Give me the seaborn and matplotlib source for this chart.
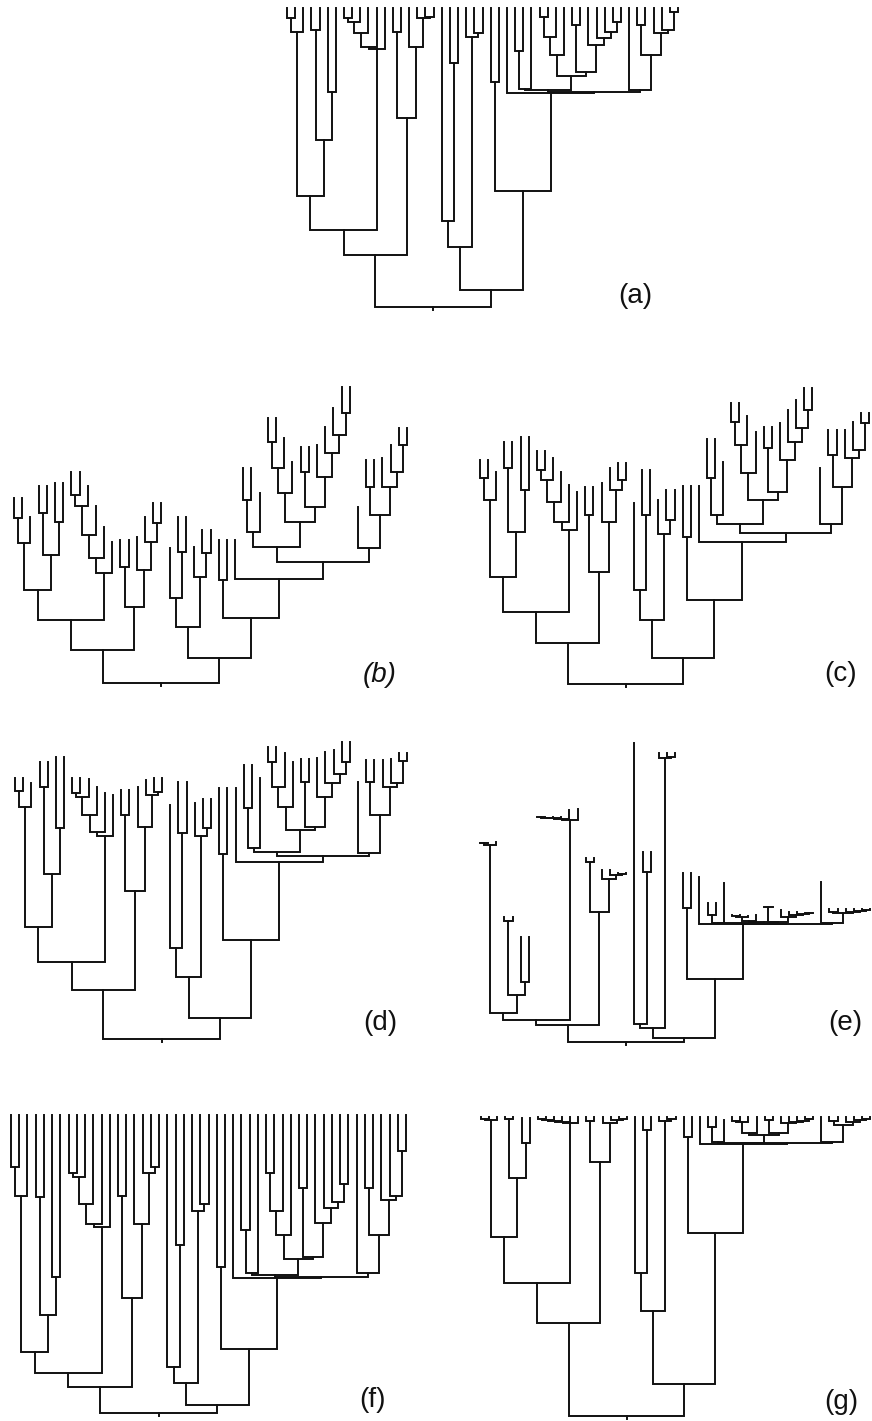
import matplotlib
matplotlib.use("Agg")
import matplotlib.pyplot as plt
import numpy as np
import pandas as pd
import seaborn as sns

# ---- shared hierarchy: 49 leaves (L0..L48), 48 merges listed bottom-up ----
node_names = ["A", "B", "C", "D", "E", "F", "G", "H", "I", "J", "K", "M",
              "N", "O", "P", "Q", "U", "V", "R", "W", "S", "T", "X",
              "AA", "AB", "AC", "AD", "AE", "AF", "AG", "AH", "AI", "AJ", "AK",
              "AL", "AM", "AN", "AO", "AP", "AQ", "AR", "AS", "AT", "AU",
              "BIG", "Z", "Y", "ROOT"]
left_child = ["L0", "A", "L3", "L5", "C", "B", "L7", "G", "H", "I", "J", "F",
              "L13", "L17", "L16", "L15", "N", "M", "L20", "L19", "L23", "L22", "W",
              "L25", "L28", "AB", "L31", "AD", "AE", "L35", "L40", "L39", "L38", "L37",
              "AG", "AF", "AC", "L43", "L47", "L46", "L45", "AO", "L42", "AN",
              "L27", "AA", "X", "V"]
right_child = ["L1", "L2", "L4", "L6", "D", "E", "L8", "L9", "L10", "L11", "L12", "K",
               "L14", "L18", "O", "P", "Q", "U", "L21", "R", "L24", "S", "T",
               "L26", "L29", "L30", "L32", "L33", "L34", "L36", "L41", "AH", "AI", "AJ",
               "AK", "AL", "AM", "L44", "L48", "AP", "AQ", "AR", "AS", "AT",
               "AU", "BIG", "Z", "Y"]

# ---- merge depths (measured downward from the top of each panel) ----
depth_a = [18, 32, 30, 92, 140, 196, 18, 22, 33, 47, 49, 230,
           32, 17, 18, 47, 118, 255, 63, 221, 33, 37, 247,
           82, 51, 89, 17, 37, 55, 25, 22, 32, 38, 45, 72, 76, 90,
           25, 12, 30, 33, 55, 90, 92, 93, 191, 290, 307]
depth_b = [138, 163, 133, 142, 175, 210, 115, 126, 155, 178, 193, 240,
           187, 143, 162, 190, 227, 270, 172, 218, 173, 197, 247,
           200, 120, 152, 62, 88, 113, 92, 33, 55, 73, 97, 127, 142, 167,
           107, 65, 92, 107, 135, 168, 182, 199, 238, 278, 303]
depth_c = [98, 120, 88, 110, 152, 197, 90, 100, 122, 142, 150, 232,
           135, 100, 110, 142, 192, 263, 135, 210, 140, 154, 240,
           157, 98, 135, 42, 65, 93, 68, 30, 48, 62, 80, 112, 120, 144,
           75, 43, 70, 78, 107, 144, 153, 162, 220, 278, 304]
depth_d = [61, 77, 57, 98, 144, 197, 63, 67, 85, 102, 106, 232,
           85, 62, 65, 97, 161, 260, 103, 218, 98, 106, 247,
           124, 78, 118, 32, 57, 77, 52, 32, 44, 53, 67, 97, 100, 122,
           52, 31, 53, 57, 85, 123, 126, 132, 210, 288, 309]
depth_e = [113, 115, 191, 252, 265, 283, 87, 88, 88, 89, 90, 290,
           132, 144, 145, 149, 182, 295, 142, 294, 27, 28, 298,
           178, 185, 193, 186, 187, 191, 177, 183, 184, 185, 187, 192, 192, 193,
           182, 180, 181, 182, 183, 193, 194, 194, 249, 308, 312]
depth_f = [62, 91, 92, 172, 210, 247, 68, 72, 99, 119, 122, 268,
           91, 62, 68, 119, 193, 282, 140, 262, 99, 106, 278,
           162, 125, 168, 68, 106, 130, 83, 79, 97, 103, 118, 152, 154, 170,
           83, 46, 91, 95, 130, 168, 172, 173, 244, 300, 308]
depth_g = [19, 20, 19, 43, 78, 137, 19, 20, 21, 22, 23, 183,
           21, 19, 20, 23, 62, 223, 30, 173, 19, 21, 211,
           37, 27, 42, 21, 22, 33, 20, 19, 21, 22, 23, 33, 35, 43,
           21, 19, 20, 22, 25, 42, 43, 44, 133, 284, 316]

# ---- leaf tip depths, L0..L48 ----
tips_a = [8, 8, 8, 8, 8, 8, 8, 8, 8, 8, 8, 8, 8, 8, 8, 8, 8, 8, 8, 8, 8, 8, 8, 8, 8,
          8, 8, 8, 8, 8, 8, 8, 8, 8, 8, 8, 8, 8, 8, 8, 8, 8, 8, 8, 8, 8, 8, 8, 8]
tips_b = [118, 118, 137, 106, 106, 103, 103, 92, 92, 106,
          126, 147, 162, 160, 160, 157, 137, 123, 123, 168,
          137, 137, 167, 150, 150, 160, 160, 160, 88, 88,
          113, 38, 38, 58, 82, 67, 67, 65, 47, 28,
          7, 7, 127, 80, 80, 78, 65, 48, 48]
tips_c = [80, 80, 92, 62, 62, 57, 57, 71, 71, 78,
          92, 105, 112, 107, 107, 103, 88, 83, 83, 123,
          90, 90, 120, 110, 110, 106, 106, 106, 59, 59,
          82, 23, 23, 36, 52, 47, 47, 43, 30, 20,
          8, 8, 88, 50, 50, 50, 42, 33, 33]
tips_d = [48, 48, 53, 32, 32, 27, 27, 48, 48, 49,
          57, 63, 65, 60, 60, 57, 50, 48, 48, 75,
          52, 52, 73, 69, 69, 58, 58, 58, 35, 35,
          48, 17, 17, 23, 32, 29, 29, 28, 22, 20,
          12, 12, 52, 30, 30, 30, 29, 23, 23]
tips_e = [113, 113, 112, 187, 187, 207, 207, 87, 87, 87,
          87, 80, 79, 128, 128, 140, 140, 143, 143, 13,
          122, 122, 23, 23, 23, 143, 143, 147, 173, 173,
          153, 185, 185, 186, 185, 177, 177, 180, 182, 182,
          183, 183, 152, 179, 179, 179, 179, 179, 179]
tips_f = [10, 10, 10, 10, 10, 10, 10, 10, 10, 10, 10, 10, 10, 10, 10, 10, 10, 10, 10, 10,
          10, 10, 10, 10, 10, 10, 10, 10, 10, 10, 10, 10, 10, 10, 10, 10, 10, 10, 10, 10,
          10, 10, 10, 10, 10, 10, 10, 10, 10]
tips_g = [17, 17, 17, 17, 17, 18, 18, 17, 17, 17,
          17, 17, 17, 17, 17, 17, 17, 17, 17, 17,
          17, 17, 17, 17, 17, 17, 17, 17, 17, 17,
          20, 17, 17, 17, 17, 17, 17, 17, 17, 17,
          17, 17, 17, 17, 17, 17, 17, 17, 17]

panel_labels = ["(a)", "(b)", "(c)", "(d)", "(e)", "(f)", "(g)"]
panel_depths = [depth_a, depth_b, depth_c, depth_d, depth_e, depth_f, depth_g]
panel_tips = [tips_a, tips_b, tips_c, tips_d, tips_e, tips_f, tips_g]

# ---- page layout (pixels): first-leaf x, last-leaf x, panel top y ----
W_PX, H_PX = 872, 1421
PANEL_SPAN = 320
frames = [(287, 678, 0), (14, 407, 380), (480, 869, 380),
          (15, 407, 730), (480, 870, 730), (11, 406, 1105), (481, 870, 1100)]
label_xy = [(635, 296), (380, 675), (841, 674), (380, 1023),
            (845, 1023), (372, 1400), (841, 1402)]


def dendrogram_frame(depths, tips):
    """Polyline rows (one unit per merge) for a bottom-rooted dendrogram."""
    xpos = {f"L{i}": float(i) for i in range(len(tips))}
    level = {f"L{i}": float(t) for i, t in enumerate(tips)}
    rows = []
    for k, (name, lc, rc, d) in enumerate(zip(node_names, left_child, right_child, depths)):
        xl, xr = xpos[lc], xpos[rc]
        xpos[name] = (xl + xr) / 2.0
        level[name] = float(d)
        for px, py in [(xl, level[lc]), (xl, d), (xr, d), (xr, level[rc])]:
            rows.append({"seg": k, "x": px, "depth": py})
    root = node_names[-1]
    for py in (level[root], level[root] + 3):
        rows.append({"seg": len(node_names), "x": xpos[root], "depth": py})
    return pd.DataFrame(rows)


sns.set_style("white")
plt.rcParams["font.family"] = ["Liberation Sans", "DejaVu Sans"]
plt.rcParams["lines.solid_joinstyle"] = "miter"
plt.rcParams["lines.solid_capstyle"] = "projecting"

fig = plt.figure(figsize=(W_PX / 100, H_PX / 100), dpi=100)
fig.patch.set_facecolor("white")

for label, depths, tips, (x0, x48, top), (lx, ly) in zip(
        panel_labels, panel_depths, panel_tips, frames, label_xy):
    step = (x48 - x0) / 48.0
    ax = fig.add_axes([(x0 - step) / W_PX,
                       1 - (top + PANEL_SPAN) / H_PX,
                       (x48 - x0 + 2 * step) / W_PX,
                       PANEL_SPAN / H_PX])
    df = dendrogram_frame(depths, tips)
    sns.lineplot(data=df, x="x", y="depth", units="seg", estimator=None,
                 sort=False, color="#111111", linewidth=1.4, legend=False, ax=ax)
    for ln in ax.lines:
        ln.set_clip_on(False)
    ax.set_xlim(-1, 49)
    ax.set_ylim(PANEL_SPAN, 0)
    ax.axis("off")
    fig.text(lx / W_PX, 1 - ly / H_PX, label, ha="center", va="center",
             fontsize=20, color="#111111",
             fontstyle="italic" if label == "(b)" else "normal")

fig.savefig("out.png", dpi=100, facecolor="white")
